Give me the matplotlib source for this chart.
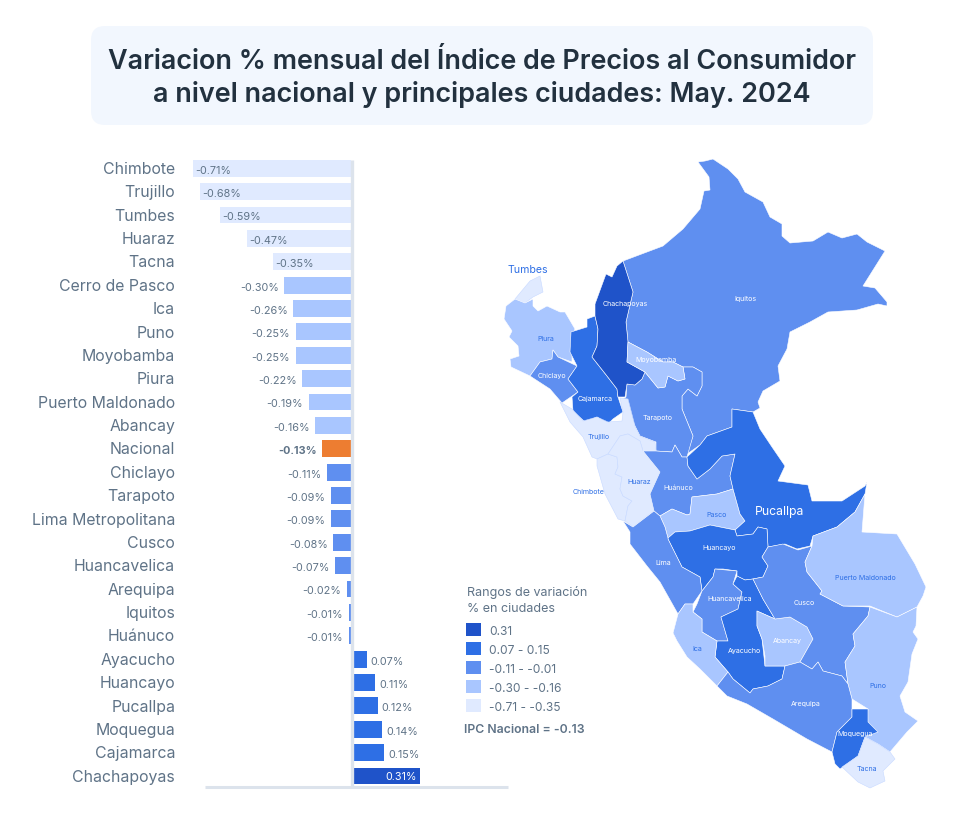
import matplotlib
matplotlib.use('Agg')
import matplotlib.pyplot as plt
from matplotlib.patches import FancyBboxPatch, Polygon, Rectangle
from matplotlib.transforms import ScaledTranslation

plt.rcParams['font.family'] = ['Inter', 'DejaVu Sans']

W, H = 963, 820

cities = ['Chimbote', 'Trujillo', 'Tumbes', 'Huaraz', 'Tacna', 'Cerro de Pasco', 'Ica', 'Puno',
          'Moyobamba', 'Piura', 'Puerto Maldonado', 'Abancay', 'Nacional', 'Chiclayo', 'Tarapoto',
          'Lima Metropolitana', 'Cusco', 'Huancavelica', 'Arequipa', 'Iquitos', 'Huánuco',
          'Ayacucho', 'Huancayo', 'Pucallpa', 'Moquegua', 'Cajamarca', 'Chachapoyas']
values = [-0.71, -0.68, -0.59, -0.47, -0.35, -0.30, -0.26, -0.25, -0.25, -0.22, -0.19, -0.16, -0.13,
          -0.11, -0.09, -0.09, -0.08, -0.07, -0.02, -0.01, -0.01, 0.07, 0.11, 0.12, 0.14, 0.15, 0.31]

legend_labels = ['0.31', '0.07 - 0.15', '-0.11 - -0.01', '-0.30 - -0.16', '-0.71 - -0.35']
legend_colors = ['#1F53C9', '#2E6FE5', '#5F8FF0', '#A9C6FF', '#E0EAFF']
range_low = [0.31, 0.07, -0.11, -0.30, -0.71]

# region outlines (pixels)
iquitos = [(698,163),(705,162),(713,160),(728,170),(738,180),(745,193),(763,203),(770,218),(782,225),
           (782,237),(790,244),(813,242),(828,233),(842,239),(857,235),(867,243),(885,252),(863,287),
           (875,289),(887,303),(887,307),(878,305),(857,311),(828,313),(810,323),(790,333),(787,350),
           (778,367),(780,382),(763,392),(758,403),(760,409),(753,413),(732,410),(732,428),(707,437),
           (700,446),(687,455),(693,437),(682,410),(682,397),(688,390),(697,397),(702,387),(702,373),
           (693,368),(683,368),(673,363),(663,363),(647,353),(628,343),(626,323),(633,293),(623,262),
           (663,247),(683,230),(700,210),(704,192),(710,191),(709,178)]
tumbes = [(515,300),(530,282),(540,277),(543,293),(533,298),(525,304)]
piura = [(515,300),(525,304),(533,300),(533,307),(538,312),(547,307),(560,313),(565,313),(575,330),
         (572,337),(572,363),(558,358),(553,351),(552,360),(540,363),(530,377),(511,368),(510,360),
         (519,357),(518,347),(509,338),(512,332),(504,320),(506,307)]
chiclayo = [(530,377),(540,363),(552,360),(553,351),(558,358),(577,367),(568,380),(578,393),(562,404),(550,390)]
cajamarca = [(571,333),(587,328),(587,320),(595,317),(598,330),(597,347),(592,358),(607,377),(617,390),
             (618,398),(623,413),(613,420),(608,425),(597,418),(585,423),(573,412),(572,398),(578,393),
             (568,380),(577,367),(570,353)]
chachapoyas = [(623,262),(633,293),(626,323),(628,343),(627,363),(645,373),(642,380),(635,386),(627,385),
               (625,398),(618,398),(617,390),(607,377),(592,358),(597,347),(598,330),(595,317),(595,305),
               (606,275),(612,278),(617,267)]
moyobamba = [(628,343),(647,353),(663,363),(673,363),(683,368),(685,380),(678,382),(668,377),(665,388),
             (658,389),(645,373),(627,363)]
tarapoto = [(635,386),(642,380),(645,373),(658,389),(665,388),(668,377),(678,382),(685,380),(683,368),
            (693,368),(702,373),(702,387),(697,397),(688,390),(682,397),(682,410),(693,437),(687,458),
            (682,458),(675,446),(672,453),(656,452),(656,443),(640,437),(635,427),(623,400),(626,398),(627,385)]
trujillo = [(560,403),(572,410),(583,422),(597,418),(608,423),(622,422),(623,413),(620,399),(628,400),
            (635,427),(640,437),(655,443),(656,452),(643,452),(640,442),(628,435),(620,437),(610,452),
            (608,455),(597,460),(592,458),(583,438),(570,423)]
chimbote = [(597,460),(608,455),(617,458),(618,468),(615,475),(622,478),(620,490),(623,497),(632,502),
            (628,507),(625,522),(618,520),(605,495),(597,467)]
huaraz = [(628,435),(620,437),(610,452),(608,455),(617,458),(618,468),(615,475),(622,478),(620,490),
          (623,497),(632,502),(628,507),(625,522),(633,528),(647,517),(654,512),(650,495),(660,473),
          (643,452),(640,442)]
huanuco = [(643,452),(656,452),(672,453),(675,446),(682,458),(687,458),(688,467),(697,480),(710,470),
           (722,457),(735,455),(730,477),(733,490),(717,495),(692,498),(690,515),(687,516),(672,510),
           (660,517),(654,512),(650,495),(660,473)]
pasco = [(660,517),(672,510),(687,516),(690,515),(692,498),(717,495),(733,490),(740,515),(745,522),
         (735,531),(710,526),(690,532),(675,533),(668,539),(665,528)]
pucallpa = [(732,410),(753,413),(760,430),(772,448),(785,467),(778,482),(808,486),(812,502),(842,502),
            (865,487),(867,483),(865,495),(855,513),(837,528),(813,537),(810,547),(797,550),(785,545),
            (768,548),(767,530),(758,528),(753,535),(737,537),(735,531),(745,522),(740,515),(733,490),
            (730,477),(735,455),(722,457),(710,470),(697,480),(688,467),(687,458),(700,446),(707,437),
            (732,428)]
huancayo = [(668,539),(675,533),(690,532),(710,526),(735,531),(737,537),(753,535),(758,528),(767,530),
            (768,548),(762,558),(768,567),(763,578),(753,580),(745,581),(737,577),(737,572),(723,570),
            (715,570),(713,578),(702,592),(700,578),(682,568),(668,540)]
lima = [(623,522),(633,528),(654,512),(660,517),(665,528),(668,539),(668,540),(682,568),(700,578),
        (702,592),(693,605),(685,605),(678,615),(660,583),(647,567),(630,545),(630,533)]
huancavelica = [(715,570),(737,572),(733,585),(742,593),(738,610),(721,618),(728,642),(717,642),(702,633),
                (702,620),(693,613),(697,605),(702,592),(713,578)]
ayacucho = [(737,577),(745,581),(753,580),(763,600),(775,620),(757,612),(757,627),(762,640),(765,667),
            (785,667),(782,680),(768,687),(753,690),(750,694),(733,680),(728,673),(715,658),(717,642),
            (728,642),(721,618),(738,610),(742,593),(733,585)]
ica = [(685,605),(693,605),(693,613),(702,620),(702,633),(717,642),(715,658),(728,673),(717,687),
       (700,670),(687,658),(677,642),(673,634),(678,615)]
abancay = [(757,612),(775,620),(790,618),(807,628),(813,640),(800,663),(785,667),(765,667),(765,657),
           (762,640),(757,627)]
cusco = [(768,548),(783,545),(798,551),(812,547),(805,563),(807,573),(822,592),(820,595),(843,607),
         (870,608),(868,617),(853,635),(855,647),(845,663),(848,685),(842,677),(823,672),(818,663),
         (812,670),(800,663),(813,640),(807,628),(790,618),(775,620),(763,600),(753,580),(763,578),
         (768,567),(762,558)]
maldonado = [(813,537),(837,528),(855,513),(865,495),(862,533),(897,535),(903,545),(915,565),
             (926,588),(923,597),(917,608),(897,618),(870,607),(843,607),(820,595),(822,592),(807,573),
             (805,563),(812,547)]
puno = [(870,608),(897,618),(917,608),(916,627),(913,633),(918,640),(912,655),(908,683),(900,697),
        (905,713),(918,722),(907,733),(890,753),(878,745),(865,738),(868,710),(852,700),(848,685),
        (845,663),(855,647),(853,635),(868,617)]
arequipa = [(717,687),(728,673),(733,680),(750,694),(753,690),(768,687),(782,680),(785,667),(800,663),
            (812,670),(818,663),(823,672),(842,677),(848,685),(852,700),(852,718),(837,733),(832,753),
            (807,740),(773,720),(747,705),(727,697)]
moquegua = [(852,718),(852,710),(868,710),(868,723),(878,733),(865,738),(858,757),(840,770),(835,765),
            (832,753),(837,733)]
tacna = [(865,738),(878,745),(890,753),(895,760),(883,772),(885,782),(870,789),(858,783),(842,768),(858,757)]

regions = [('Iquitos', iquitos), ('Tarapoto', tarapoto), ('Tumbes', tumbes), ('Piura', piura),
           ('Chiclayo', chiclayo), ('Cajamarca', cajamarca), ('Chachapoyas', chachapoyas),
           ('Moyobamba', moyobamba), ('Trujillo', trujillo), ('Chimbote', chimbote), ('Huaraz', huaraz),
           ('Huánuco', huanuco), ('Cerro de Pasco', pasco), ('Pucallpa', pucallpa), ('Huancayo', huancayo),
           ('Lima Metropolitana', lima), ('Huancavelica', huancavelica), ('Ayacucho', ayacucho), ('Ica', ica),
           ('Abancay', abancay), ('Cusco', cusco), ('Puerto Maldonado', maldonado), ('Puno', puno),
           ('Arequipa', arequipa), ('Moquegua', moquegua), ('Tacna', tacna)]

map_labels = [('Chachapoyas', 625, 303, 'w'), ('Iquitos', 745, 298, 'w'), ('Piura', 546, 338, 'b'),
              ('Moyobamba', 656, 359, 'w'), ('Chiclayo', 552, 375, 'w'), ('Cajamarca', 595, 398, 'w'),
              ('Tarapoto', 658, 417, 'w'), ('Trujillo', 599, 436, 'b'), ('Huaraz', 639, 481, 'b'),
              ('Huánuco', 678, 487, 'w'), ('Chimbote', 589, 491, 'b'), ('Pasco', 717, 514, 'b'),
              ('Huancayo', 719, 547, 'w'), ('Lima', 663, 562, 'w'), ('Puerto Maldonado', 865, 577, 'b'),
              ('Cusco', 804, 602, 'w'), ('Huancavelica', 730, 598, 'w'), ('Abancay', 787, 640, 'w'),
              ('Ica', 697, 648, 'b'), ('Ayacucho', 744, 650, 'w'), ('Puno', 878, 685, 'b'),
              ('Arequipa', 806, 703, 'w'), ('Moquegua', 855, 733, 'w'), ('Tacna', 867, 768, 'b')]


def color_of(v):
    for low, c in zip(range_low, legend_colors):
        if v >= low:
            return c
    return legend_colors[-1]


GREY = '#5F7387'
DARK = '#22313F'
BLUE = '#2E6FE5'
AXIS = '#DCE3EC'

fig = plt.figure(figsize=(W / 100, H / 100), dpi=100, facecolor='white')

# background layer in pixels: title box, map and legend
bg = fig.add_axes([0, 0, 1, 1])
bg.set_xlim(0, W)
bg.set_ylim(H, 0)
bg.axis('off')

bg.add_patch(FancyBboxPatch((91, 27), 782, 99, boxstyle='round,pad=0,rounding_size=14', linewidth=0,
                            facecolor='#F2F7FE'))
bg.text(482, 62, 'Variacion % mensual del Índice de Precios al Consumidor', ha='center', va='center',
        fontsize=19.45, fontweight='semibold', color=DARK)
bg.text(482, 94.5, 'a nivel nacional y principales ciudades: May. 2024', ha='center', va='center',
        fontsize=19.45, fontweight='semibold', color=DARK)

value_of = dict(zip(cities, values))
for name, outline in regions:
    c = color_of(value_of[name])
    edge = '#C8DAFF' if c == legend_colors[-1] else 'white'
    bg.add_patch(Polygon(outline, closed=True, facecolor=c, edgecolor=edge, linewidth=0.4, joinstyle='round'))

for name, x, y, kind in map_labels:
    bg.text(x, y + 1, name, ha='center', va='center', fontsize=5.1, color='white' if kind == 'w' else BLUE)
bg.text(528, 270, 'Tumbes', ha='center', va='center', fontsize=7.6, color=BLUE)
bg.text(780, 512, 'Pucallpa', ha='center', va='center', fontsize=8.8, color='white')

bg.text(467, 593, 'Rangos de variación', va='center', fontsize=9, color=GREY)
bg.text(467, 609, '% en ciudades', va='center', fontsize=9, color=GREY)
for i, (lab, c) in enumerate(zip(legend_labels, legend_colors)):
    y = 624 + i * 19
    bg.add_patch(Rectangle((466, y), 15, 13, facecolor=c, linewidth=0))
    bg.text(489, y + 8, lab, va='center', fontsize=8.6, color=GREY)
bg.text(464, 730, 'IPC Nacional = -0.13', va='center', fontsize=8.8, fontweight='semibold', color=GREY)

# bar chart, scale: 222 px per unit, zero at x=351
left, right, top, bottom = 205, 508, 157.6, 788
ax = fig.add_axes([left / W, 1 - bottom / H, (right - left) / W, (bottom - top) / H])
ax.patch.set_alpha(0)
ax.set_xlim((left - 351) / 222, (right - 351) / 222)
ax.set_ylim(26.47, -0.5)

rows = list(range(len(cities)))
colors = ['#ED7D31' if n == 'Nacional' else color_of(v) for n, v in zip(cities, values)]
ax.barh(rows, values, height=0.72, color=colors, linewidth=0, zorder=2, clip_on=False)
ax.vlines(0.003, -0.36, 26.47, color=AXIS, linewidth=2.4, zorder=3)

for i, (n, v) in enumerate(zip(cities, values)):
    label = '%.2f%%' % v
    opts = dict(textcoords='offset points', va='center', fontsize=7.8, zorder=4, annotation_clip=False)
    if v <= -0.35:
        ax.annotate(label, (v, i), xytext=(1.5, -1), ha='left', color=GREY, **opts)
    elif n == 'Chachapoyas':
        ax.annotate(label, (v, i), xytext=(-2, 0), ha='right', color='white', **opts)
    elif v < 0:
        ax.annotate(label, (v, i), xytext=(-4, -1), ha='right', color=GREY,
                    fontweight='bold' if n == 'Nacional' else 'normal', **opts)
    else:
        ax.annotate(label, (v, i), xytext=(3, -1), ha='left', color=GREY, **opts)

ax.set_yticks(rows)
ax.set_yticklabels(cities, fontsize=11.4, color=GREY)
ax.tick_params(axis='y', length=0, pad=21.5)
shift = ScaledTranslation(0, 1 / 72, fig.dpi_scale_trans)
for t in ax.get_yticklabels():
    t.set_transform(t.get_transform() + shift)
ax.set_xticks([])
for s in ['top', 'left', 'right']:
    ax.spines[s].set_visible(False)
ax.spines['bottom'].set_color(AXIS)
ax.spines['bottom'].set_linewidth(2.2)
ax.spines['bottom'].set_capstyle('butt')

fig.savefig('out.png', dpi=100)
